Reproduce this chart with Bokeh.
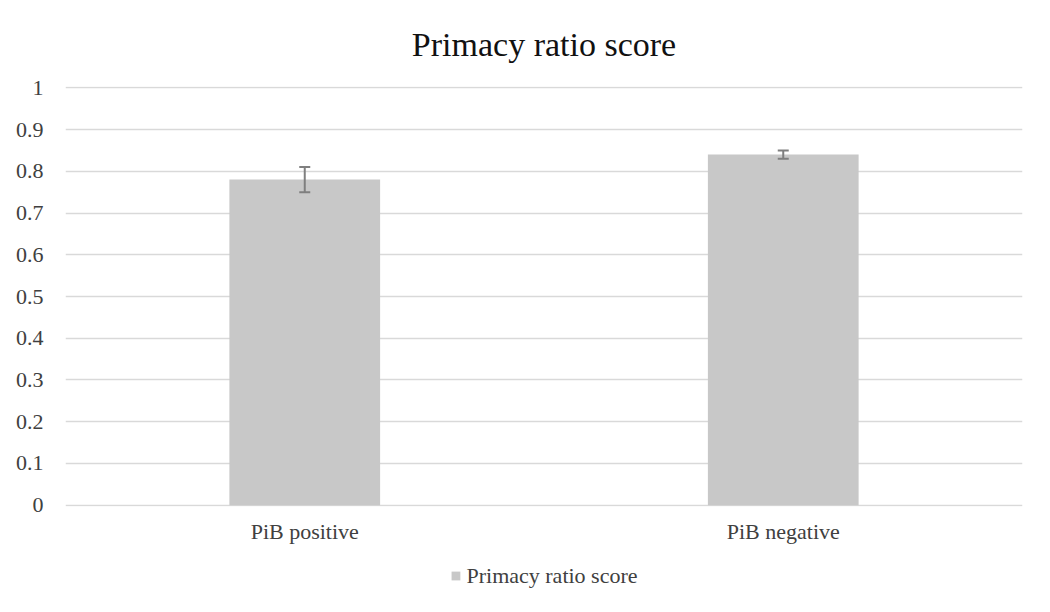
from bokeh.plotting import figure
from bokeh.layouts import column
from bokeh.models import ColumnDataSource, Whisker, Legend, LegendItem, FixedTicker, Title
from bokeh.embed import file_html
from bokeh.resources import INLINE

categories = ["PiB positive", "PiB negative"]
values = [0.78, 0.84]
errors = [0.03, 0.01]
series_name = "Primacy ratio score"
title_text = "Primacy ratio score"

upper = [v + e for v, e in zip(values, errors)]
lower = [v - e for v, e in zip(values, errors)]
src = ColumnDataSource(dict(cat=categories, val=values, upper=upper, lower=lower))

FONT = "Liberation Serif"
BAR_COLOR = "#c8c8c8"
TXT = "#404040"

p = figure(x_range=categories, y_range=(-0.003, 1.003), width=1034, height=555,
           output_backend="svg", toolbar_location=None,
           min_border_left=65, min_border_right=12, min_border_top=86, min_border_bottom=49)

bars = p.vbar(x="cat", top="val", width=0.315, source=src, fill_color=BAR_COLOR, line_color=None)
w = Whisker(source=src, base="cat", upper="upper", lower="lower", line_color="#7f7f7f",
            line_width=2, level="overlay")
for h in (w.upper_head, w.lower_head):
    h.line_color = "#7f7f7f"
    h.line_width = 2
    h.size = 11
p.add_layout(w)

p.title = Title(text=title_text, text_font=FONT, text_font_size="34px", text_font_style="normal",
                align="center", text_color="#111111", standoff=47)

p.yaxis.ticker = FixedTicker(ticks=[i / 10 for i in range(11)])
p.yaxis.major_label_overrides = {0: "0", 1: "1"}
p.ygrid.grid_line_color = "#d9d9d9"
p.ygrid.grid_line_width = 1.5
p.xgrid.grid_line_color = None
for ax in (p.xaxis, p.yaxis):
    ax.axis_line_color = None
    ax.major_tick_line_color = None
    ax.minor_tick_line_color = None
    ax.major_label_text_font = FONT
    ax.major_label_text_font_size = "22px"
    ax.major_label_text_color = TXT
p.yaxis.major_label_standoff = 16
p.xaxis.major_label_standoff = 6
p.outline_line_color = None

# legend strip below the chart (its key glyph uses the same series, kept out of view)
lg = figure(width=1034, height=41, output_backend="svg", toolbar_location=None,
            x_range=categories, y_range=(2, 3), min_border=0)
lg.axis.visible = False
lg.grid.visible = False
lg.outline_line_color = None
key = lg.vbar(x="cat", top="val", width=0.315, source=src, fill_color=BAR_COLOR, line_color=None)
legend = Legend(items=[LegendItem(label=series_name, renderers=[key])], orientation="horizontal",
                label_text_font=FONT, label_text_font_size="22px", label_text_color=TXT,
                border_line_color=None, background_fill_alpha=0,
                glyph_width=11, glyph_height=11, label_standoff=6,
                padding=0, margin=0, location="center")
lg.add_layout(legend)

layout = column(p, lg, spacing=0)
open("out.html", "w").write(file_html(layout, INLINE))
